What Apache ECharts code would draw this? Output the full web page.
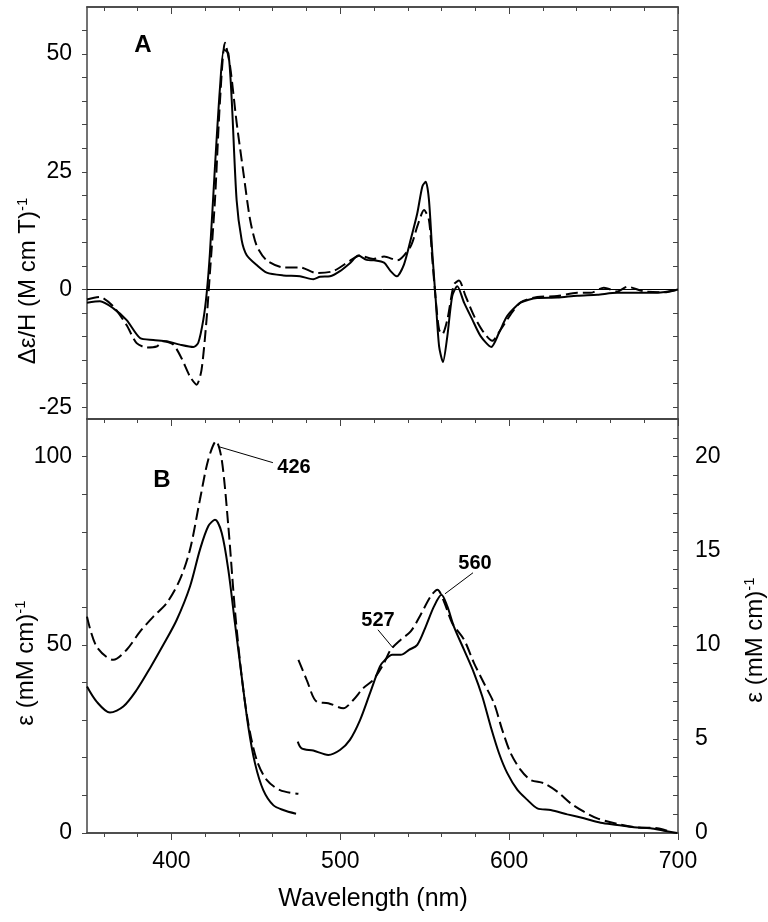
<!DOCTYPE html>
<html>
<head>
<meta charset="utf-8">
<script src="https://cdn.jsdelivr.net/npm/echarts@6/dist/echarts.min.js"></script>
<style>html,body{margin:0;padding:0;background:#fff;}#c{width:768px;height:922px;}</style>
</head>
<body>
<div id="c"></div>
<script>
// ---------- Data ----------
// Panel A: MCD, solid
const mcdSolidWl = [350, 357.7, 365.6, 373.5, 381.4, 389.3, 397.2, 405, 413, 415.9, 418.9, 420.9, 422.8, 425.8, 428.8, 431.1, 433.7, 435.7, 438.6, 441.6, 444.6, 450.5, 456.4, 466.2, 476.1, 484, 488, 493.9, 499.8, 505.7, 510.7, 515.6, 520, 525.9, 529.8, 533.4, 537.7, 541.7, 545.6, 548.6, 550.6, 552.5, 554.5, 556.5, 558.5, 560.8, 563.4, 566.3, 569.3, 573.3, 578.2, 583.1, 589.4, 594, 598.9, 606.8, 616.6, 628.5, 640.3, 652.2, 664, 675.8, 687.7, 700];
const mcdSolidVal = [-2.8, -2.5, -4.0, -6.5, -10.3, -10.7, -11.0, -11.7, -12.2, -11.3, -6.4, -0.7, 7.8, 26.2, 43.1, 50.9, 50.2, 40.3, 19, 10.5, 7.3, 5.2, 3.6, 3.0, 2.8, 2.2, 2.7, 2.8, 3.9, 5.6, 7.2, 6.3, 6.2, 5.7, 3.9, 2.8, 5.3, 10.6, 16.2, 21.9, 22.9, 19.1, 7.8, -2.1, -12.0, -15.4, -9.9, -1.4, 0.7, -2.8, -6.4, -9.9, -12.2, -9.2, -5.6, -2.8, -1.8, -1.7, -1.3, -1.1, -0.7, -0.7, -0.7, 0];
// Panel A: MCD, dashed
const mcdDashWl = [350, 357.7, 365.6, 373.5, 379.4, 385.3, 391.2, 395.2, 401.1, 406, 411, 414.9, 417.8, 420.8, 422.8, 425.8, 428.8, 431.7, 434.7, 438.6, 442.6, 446.5, 450.5, 456.4, 466.2, 476.1, 485.9, 495.8, 505.7, 511.6, 519.5, 525.9, 533.8, 541.7, 545.6, 549.6, 552.5, 554.5, 556.5, 558.5, 560.4, 563.4, 567.3, 570.3, 574.2, 579.2, 585.1, 590, 595, 600.9, 606.8, 616.6, 628.5, 640.3, 648.2, 656.1, 664, 670, 679.8, 691.7, 700];
const mcdDashVal = [-2.1, -1.6, -3.6, -7.6, -11.4, -12.3, -12.1, -11.0, -11.7, -14.6, -18.5, -20.2, -17.1, -6.4, 3.5, 19.1, 40.3, 52.4, 47.5, 35.5, 24.9, 15.0, 9.3, 6.2, 4.7, 4.7, 3.5, 3.9, 6.1, 7.2, 6.5, 7.0, 6.2, 9.2, 13.4, 16.9, 14.8, 6.4, -2.1, -8.5, -9.5, -6.4, 1.1, 1.9, -1.4, -5.6, -9.2, -10.9, -8.5, -5.3, -2.7, -1.6, -1.4, -0.7, -0.7, 0.4, -0.4, 0.6, -0.4, -0.6, 0];

// Panel B: absorption, Soret region (left axis)
const absSolidWlL = [350, 355.7, 363.6, 371.5, 379.4, 387.3, 395.2, 403.1, 411, 416.9, 421.8, 425.8, 429.8, 433.7, 437.6, 441.6, 445.5, 449.5, 454.4, 460.3, 466.2, 473.8];
const absSolidValL = [38.9, 34.9, 32.0, 33.6, 38.0, 43.8, 50.0, 56.6, 65.5, 75.3, 81.5, 83.2, 79.7, 69.9, 55.8, 41.6, 28.3, 18.5, 11.4, 7.4, 6.1, 5.1];
const absDashWlL = [350, 355.7, 365.6, 373.5, 381.4, 389.3, 397.2, 405, 411, 416.9, 421.8, 426.4, 429.8, 433.7, 437.6, 441.6, 445.5, 450.5, 456.4, 464.3, 475.2];
const absDashValL = [57.5, 49.5, 46.0, 48.7, 53.5, 57.5, 61.1, 67.3, 75.3, 88.6, 99.2, 104.1, 99.2, 81.5, 59.3, 41.6, 29.2, 19.4, 14.1, 11.4, 10.4];

// Panel B: absorption, visible region (right axis)
const absSolidWlR = [474.8, 477.1, 484, 492.9, 499.8, 505.7, 511.7, 517.6, 523.5, 526.5, 530.8, 535.8, 540.7, 545.6, 550.6, 555.5, 559.9, 563.4, 567.3, 573.3, 579.2, 584.1, 589.1, 594, 598.9, 604.9, 610.8, 616.7, 624.6, 634.5, 644.3, 654.2, 664, 673.9, 683.7, 691.6, 699.5];
const absSolidValR = [4.86, 4.5, 4.38, 4.15, 4.41, 4.95, 6.0, 7.43, 8.85, 9.2, 9.47, 9.47, 9.73, 10.0, 10.97, 12.04, 12.66, 12.04, 10.97, 9.73, 8.5, 7.25, 5.65, 4.24, 3.18, 2.29, 1.76, 1.31, 1.22, 0.99, 0.78, 0.55, 0.43, 0.30, 0.25, 0.12, 0];
const absDashWlR = [475.2, 480.1, 486, 492.9, 501.8, 507.7, 513.6, 519.5, 525.9, 529.8, 535.8, 541.7, 547.6, 553.5, 557.5, 561.4, 566.3, 573.3, 579.2, 585.1, 591, 595.9, 600.9, 606.8, 612.7, 620.6, 628.5, 636.4, 644.3, 652.2, 664, 675.8, 687.7, 695.6];
const absDashValR = [9.2, 8.14, 6.98, 6.9, 6.63, 7.07, 7.7, 8.14, 9.03, 9.73, 10.27, 10.71, 11.6, 12.57, 12.93, 12.3, 11.15, 10.27, 9.03, 7.96, 6.9, 5.48, 4.24, 3.35, 2.82, 2.64, 2.2, 1.58, 1.13, 0.78, 0.48, 0.30, 0.25, 0.07];

// Ticks / labels
const xMinorTicks = [360,380,400,420,440,460,480,500,520,540,560,580,600,620,640,660,680,700];
const xMajor = [400, 500, 600, 700];
const yATicks = [-25,-20,-15,-10,-5,0,5,10,15,20,25,30,35,40,45,50,55];
const yALabels = [-25, 0, 25, 50];
const yBLTicks = [0,10,20,30,40,50,60,70,80,90,100];
const yBLLabels = [0, 50, 100];
const yBRTicks = [0,1,2,3,4,5,6,7,8,9,10,11,12,13,14,15,16,17,18,19,20,21];
const yBRLabels = [0, 5, 10, 15, 20];

// Peak annotations [label, peak wl, peak value, leader-end wl, leader-end value, text wl, text value]
const peakNotes426 = ['426', 427.6, 102.7, 460.1, 98.4, 472.6, 97.1];
const peakNotes527 = ['527', 531.2, 9.84, 522.3, 10.8, 522.3, 11.3];
const peakNotes560 = ['560', 562.0, 12.71, 578.6, 13.83, 579.8, 14.3];

// ---------- Build ----------
const zip = (a, b) => a.map((x, i) => [x, b[i]]);
const FONT = '"Liberation Sans", Arial, Helvetica, sans-serif';
const AX = '#444';
const TICKFS = 23;

function leader(n) {
  return {
    markLine: {
      silent: true, symbol: ['none', 'none'], animation: false,
      lineStyle: { color: '#000', width: 1, type: 'solid' },
      label: { show: false },
      data: [[{ coord: [n[1], n[2]] }, { coord: [n[3], n[4]] }]]
    },
    markPoint: {
      silent: true, animation: false,
      data: [{ coord: [n[5], n[6]], symbol: 'circle', symbolSize: 0,
        label: { show: true, formatter: n[0], color: '#000', fontSize: 20, fontWeight: 'bold', fontFamily: FONT } }]
    }
  };
}

function xAx(grid, pos, opts) {
  return Object.assign({
    type: 'value', gridIndex: grid, position: pos, min: 350, max: 700,
    axisLine: { show: true, onZero: false, lineStyle: { color: AX, width: 1.5 } },
    axisTick: { show: false },
    axisLabel: { show: false },
    splitLine: { show: false }
  }, opts);
}

const titleRich = {
  m: { fontSize: 24, fontFamily: FONT, fill: '#000', color: '#000', lineHeight: 26 },
  s: { fontSize: 15, fontFamily: FONT, fill: '#000', color: '#000', verticalAlign: 'top' }
};

const option = {
  animation: false,
  backgroundColor: '#fff',
  textStyle: { fontFamily: FONT },
  grid: [
    { left: 87, width: 591, top: 7, height: 412 },
    { left: 87, width: 591, top: 419, height: 414 }
  ],
  xAxis: [
    xAx(0, 'bottom', {}),
    xAx(0, 'top', { axisTick: { show: true, inside: true, length: 4, customValues: xMinorTicks, lineStyle: { color: AX } } }),
    xAx(1, 'bottom', {
      axisTick: { show: true, inside: false, length: 4, customValues: xMinorTicks, lineStyle: { color: AX } },
      axisLabel: { show: true, customValues: xMajor, fontSize: TICKFS, color: '#000', margin: 17, fontFamily: FONT }
    }),
    xAx(1, 'top', { axisTick: { show: true, inside: true, length: 4, customValues: xMinorTicks, lineStyle: { color: AX } } }),
    xAx(1, 'bottom', { axisTick: { show: true, inside: false, length: 7, customValues: xMajor, lineStyle: { color: AX } } }),
    xAx(1, 'top', { axisTick: { show: true, inside: true, length: 7, customValues: xMajor, lineStyle: { color: AX } } }),
    xAx(0, 'top', { axisTick: { show: true, inside: true, length: 7, customValues: xMajor, lineStyle: { color: AX } } })
  ],
  yAxis: [
    { type: 'value', gridIndex: 0, position: 'left', min: -27.5, max: 60,
      axisLine: { show: true, onZero: false, lineStyle: { color: AX, width: 1.5 } },
      axisTick: { show: true, inside: false, length: 5, customValues: yATicks, lineStyle: { color: AX } },
      axisLabel: { show: true, customValues: yALabels, fontSize: TICKFS, color: '#000', margin: 15, fontFamily: FONT },
      splitLine: { show: false } },
    { type: 'value', gridIndex: 0, position: 'right', min: -27.5, max: 60,
      axisLine: { show: true, onZero: false, lineStyle: { color: AX, width: 1.5 } },
      axisTick: { show: true, inside: true, length: 5, customValues: yATicks, lineStyle: { color: AX } },
      axisLabel: { show: false }, splitLine: { show: false } },
    { type: 'value', gridIndex: 1, position: 'left', min: 0, max: 110,
      axisLine: { show: true, onZero: false, lineStyle: { color: AX, width: 1.5 } },
      axisTick: { show: true, inside: false, length: 5, customValues: yBLTicks, lineStyle: { color: AX } },
      axisLabel: { show: true, customValues: yBLLabels, fontSize: TICKFS, color: '#000', margin: 15, fontFamily: FONT },
      splitLine: { show: false } },
    { type: 'value', gridIndex: 1, position: 'right', min: 0, max: 22,
      axisLine: { show: true, onZero: false, lineStyle: { color: AX, width: 1.5 } },
      axisTick: { show: true, inside: true, length: 5, customValues: yBRTicks, lineStyle: { color: AX } },
      axisLabel: { show: true, customValues: yBRLabels, fontSize: TICKFS, color: '#000', margin: 17, fontFamily: FONT },
      splitLine: { show: false } }
  ],
  series: [
    { type: 'line', xAxisIndex: 0, yAxisIndex: 0, data: zip(mcdSolidWl, mcdSolidVal), showSymbol: false, smooth: 0.25,
      lineStyle: { color: '#000', width: 2 }, z: 3,
      markLine: { silent: true, symbol: ['none', 'none'], animation: false, label: { show: false },
        lineStyle: { color: '#000', width: 1, type: 'solid' }, data: [{ yAxis: 0 }] } },
    { type: 'line', xAxisIndex: 0, yAxisIndex: 0, data: zip(mcdDashWl, mcdDashVal), showSymbol: false, smooth: 0.25,
      lineStyle: { color: '#000', width: 2, type: [12, 5] }, z: 3 },
    { type: 'line', xAxisIndex: 2, yAxisIndex: 2, data: zip(absSolidWlL, absSolidValL), showSymbol: false, smooth: 0.3,
      lineStyle: { color: '#000', width: 2 } },
    Object.assign({ type: 'line', xAxisIndex: 2, yAxisIndex: 2, data: zip(absDashWlL, absDashValL), showSymbol: false, smooth: 0.3,
      lineStyle: { color: '#000', width: 2, type: [12, 5] } }, leader(peakNotes426)),
    Object.assign({ type: 'line', xAxisIndex: 2, yAxisIndex: 3, data: zip(absSolidWlR, absSolidValR), showSymbol: false, smooth: 0.3,
      lineStyle: { color: '#000', width: 2 } }, leader(peakNotes527)),
    Object.assign({ type: 'line', xAxisIndex: 2, yAxisIndex: 3, data: zip(absDashWlR, absDashValR), showSymbol: false, smooth: 0.3,
      lineStyle: { color: '#000', width: 2, type: [12, 5] } }, leader(peakNotes560))
  ],
  graphic: [
    { type: 'text', x: 143, y: 45, style: { text: 'A', font: 'bold 24px ' + FONT, fill: '#000', align: 'center', verticalAlign: 'middle', textAlign: 'center', textVerticalAlign: 'middle' } },
    { type: 'text', x: 162, y: 480, style: { text: 'B', font: 'bold 24px ' + FONT, fill: '#000', align: 'center', verticalAlign: 'middle', textAlign: 'center', textVerticalAlign: 'middle' } },
    { type: 'text', x: 28, y: 281, rotation: Math.PI / 2,
      style: { text: '{m|Δε/H (M cm T)}{s|-1}', fill: '#000', align: 'center', verticalAlign: 'middle', textAlign: 'center', textVerticalAlign: 'middle', rich: titleRich } },
    { type: 'text', x: 26, y: 663, rotation: Math.PI / 2,
      style: { text: '{m|ε (mM cm)}{s|-1}', fill: '#000', align: 'center', verticalAlign: 'middle', textAlign: 'center', textVerticalAlign: 'middle', rich: titleRich } },
    { type: 'text', x: 755, y: 640, rotation: Math.PI / 2,
      style: { text: '{m|ε (mM cm)}{s|-1}', fill: '#000', align: 'center', verticalAlign: 'middle', textAlign: 'center', textVerticalAlign: 'middle', rich: titleRich } },
    { type: 'text', x: 373, y: 899, style: { text: 'Wavelength (nm)', font: '25px ' + FONT, fill: '#000', align: 'center', verticalAlign: 'middle', textAlign: 'center', textVerticalAlign: 'middle' } }
  ]
};

const chart = echarts.init(document.getElementById('c'), null, { renderer: 'canvas' });
chart.setOption(option);
</script>
</body>
</html>
